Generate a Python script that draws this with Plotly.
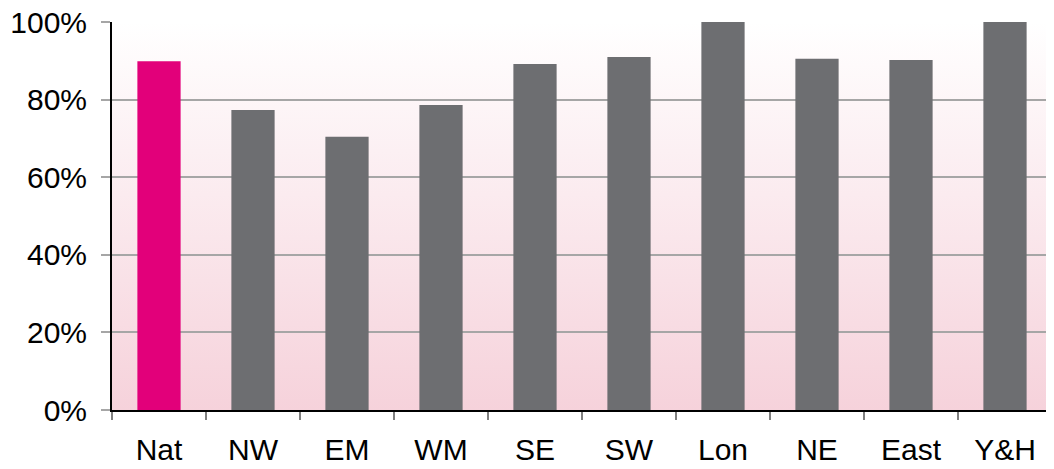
import base64
import plotly.graph_objects as go

categories = ["Nat", "NW", "EM", "WM", "SE", "SW", "Lon", "NE", "East", "Y&H"]
values = [89.9, 77.3, 70.4, 78.6, 89.2, 91.0, 100.0, 90.5, 90.2, 100.0]
bar_colors = ["#E2007A"] + ["#6D6E71"] * 9
y_ticks = [0, 20, 40, 60, 80, 100]
y_tick_labels = ["0%", "20%", "40%", "60%", "80%", "100%"]

svg = (
    '<svg xmlns="http://www.w3.org/2000/svg" width="100" height="100" preserveAspectRatio="none">'
    '<defs><linearGradient id="g" x1="0" y1="0" x2="0" y2="1">'
    '<stop offset="0" stop-color="#FFFFFF"/>'
    '<stop offset="1" stop-color="#F6D2DB"/>'
    '</linearGradient></defs>'
    '<rect x="0" y="0" width="100" height="100" fill="url(#g)"/></svg>'
)
svg_uri = "data:image/svg+xml;base64," + base64.b64encode(svg.encode()).decode()

fig = go.Figure()
fig.add_trace(go.Bar(
    x=categories, y=values, marker=dict(color=bar_colors, line=dict(width=0)),
    width=0.46, showlegend=False,
))

# page body has an 8px default margin, so the figure is sized to fit
fig.update_layout(
    width=1046, height=461,
    margin=dict(l=104, r=2, t=14, b=59, autoexpand=False),
    paper_bgcolor="white", plot_bgcolor="rgba(0,0,0,0)",
    font=dict(family="Liberation Sans, Arial, sans-serif", size=30, color="#000000"),
    images=[dict(source=svg_uri, xref="paper", yref="paper", x=0, y=1,
                 sizex=1, sizey=1, sizing="stretch", layer="below",
                 xanchor="left", yanchor="top")],
)
fig.update_xaxes(
    automargin=False,
    showgrid=False, showline=True, linecolor="#000000", linewidth=2,
    ticks="outside", tickson="boundaries", ticklen=8, tickcolor="#7F7F7F", tickwidth=2,
    range=[-0.5, 9.5], ticklabelstandoff=12, ticklabeloverflow="allow",
)
fig.update_yaxes(
    automargin=False,
    range=[0, 100], tickvals=y_ticks, ticktext=y_tick_labels,
    showgrid=True, gridcolor="#A6A6A6", gridwidth=1.5,
    zeroline=False, showline=True, linecolor="#000000", linewidth=2,
    ticks="outside", ticklen=9, tickcolor="#A6A6A6", tickwidth=1.5,
    ticklabelstandoff=8, ticklabeloverflow="allow",
)

fig.write_html("out.html")
